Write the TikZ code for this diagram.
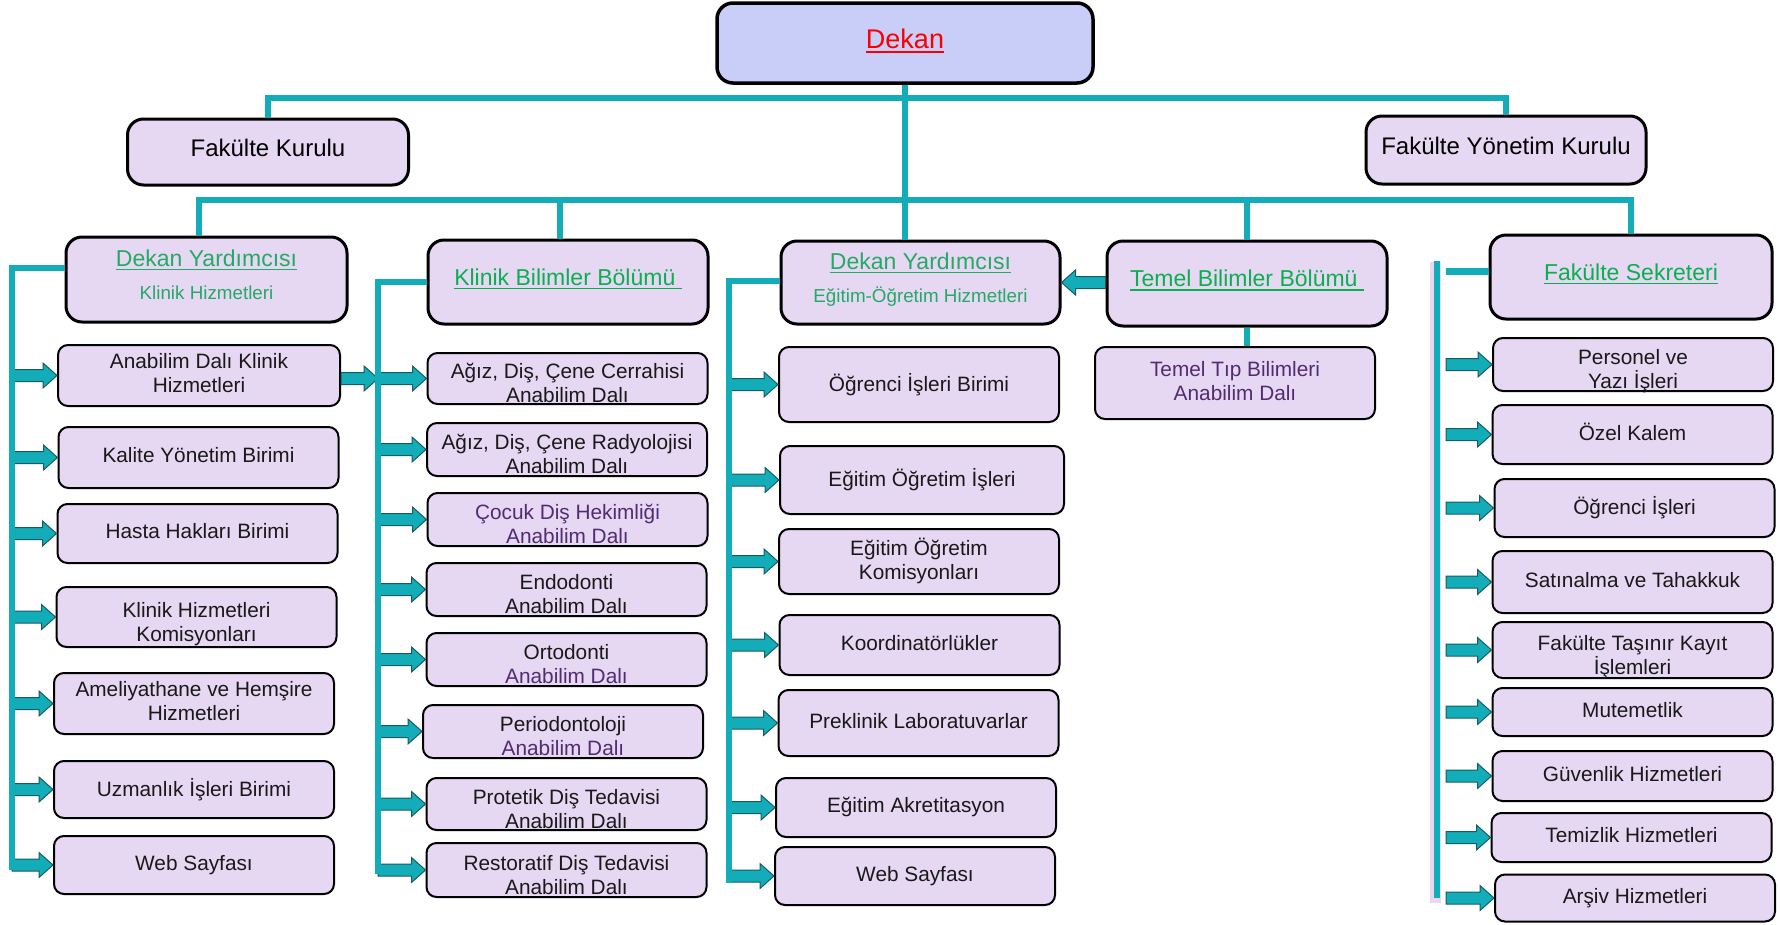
\documentclass[tikz,border=0pt]{standalone}
\usepackage{fontspec}
\setmainfont{Liberation Sans}
\usetikzlibrary{calc}

\definecolor{lineteal}{RGB}{18,173,184}
\definecolor{arrowedge}{RGB}{24,92,98}
\definecolor{boxfill}{RGB}{230,215,242}
\definecolor{topfill}{RGB}{200,206,247}
\definecolor{headgreen}{RGB}{36,170,100}
\definecolor{bolgreen}{RGB}{10,176,80}
\definecolor{dalpurple}{RGB}{82,44,112}
\definecolor{dekanred}{RGB}{250,0,0}
\definecolor{buspink}{RGB}{236,214,240}

% underline with a rule that follows the font size
\newsavebox\ulbox
\newcommand{\uln}[1]{\sbox\ulbox{#1}\leavevmode\rlap{\rule[-0.17em]{\wd\ulbox}{0.07em}}\usebox\ulbox}
% taller first line, pushes two-line text down a little
\newcommand{\lo}{\rule{0pt}{24pt}}

% block arrow from #1 to #2 (horizontal, at the height of #2)
\newcommand{\fatarrow}[2]{%
  \path[fatarr] let \p1=#1, \p2=#2, \p3=($(\x2,\y2)!14pt!(\x1,\y2)$) in
    (\x1,\y2+6pt) -- (\x3,\y2+6pt) -- (\x3,\y2+12.5pt) -- (\x2,\y2)
    -- (\x3,\y2-12.5pt) -- (\x3,\y2-6pt) -- (\x1,\y2-6pt) -- cycle;}

\begin{document}
\begin{tikzpicture}[
    x=1pt, y=-1pt,
    conn/.style={draw=lineteal, line width=6pt},
    fatarr/.style={fill=lineteal, draw=arrowedge, line width=1pt},
    ht/.style={minimum height=#1pt},
    wd/.style={minimum width=#1pt},
    box/.style={draw=black, fill=boxfill, inner sep=0pt, align=center, minimum width=280pt},
    top/.style={box, line width=3pt, rounded corners=16pt, text depth=9pt, font=\fontsize{24}{28}\selectfont},
    head/.style={box, line width=3pt, rounded corners=16pt, text depth=10pt, font=\fontsize{23}{33}\selectfont},
    unit/.style={box, line width=2pt, rounded corners=10pt, text depth=5pt, font=\fontsize{20.8}{24}\selectfont, text=black!90},
    low/.style={text depth=0pt},
  ]
  \useasboundingbox (0,0) rectangle (1780,924);

  % top level
  \node[top, fill=topfill, line width=3.5pt, wd=376, ht=80, font=\fontsize{27}{30}\selectfont]
    (dekan) at (905,43) {\textcolor{dekanred}{\uln{Dekan}}};
  \node[top, wd=281, ht=66] (fk) at (268,152) {Fakülte Kurulu};
  \node[top, ht=68] (fyk) at (1506,150) {Fakülte Yönetim Kurulu};

  % section heads
  \node[head, wd=281, ht=85, text=headgreen] (dyk) at (206.5,279.5)
    {\uln{Dekan Yardımcısı}\\{\fontsize{18.8}{33}\selectfont Klinik Hizmetleri}};
  \node[head, ht=84, text=bolgreen] (kbb) at (568,282) {\uln{Klinik Bilimler Bölümü\ }};
  \node[head, wd=279, ht=83, text=headgreen] (dye) at (920.5,282.5)
    {\uln{Dekan Yardımcısı}\\{\fontsize{18.8}{33}\selectfont Eğitim-Öğretim Hizmetleri}};
  \node[head, ht=85, text=bolgreen] (tbb) at (1247,283.5) {\uln{Temel Bilimler Bölümü\ }};
  \node[head, wd=282, ht=84, text=bolgreen] (sek) at (1631,277) {\uln{Fakülte Sekreteri}};
  \node[unit, ht=72, text=dalpurple] (ttb) at (1235,383) {Temel Tıp Bilimleri\\Anabilim Dalı};

  % klinik hizmetleri
  \node[unit, wd=282, ht=61] (k1) at (199,375.5) {Anabilim Dalı Klinik\\Hizmetleri};
  \node[unit, ht=61] (k2) at (198.5,457.5) {Kalite Yönetim Birimi};
  \node[unit, ht=59] (k3) at (197.5,533.5) {Hasta Hakları Birimi};
  \node[unit, ht=60, low] (k4) at (196.5,617) {\lo Klinik Hizmetleri\\Komisyonları};
  \node[unit, ht=61] (k5) at (194,703.5) {Ameliyathane ve Hemşire\\Hizmetleri};
  \node[unit, ht=57] (k6) at (194,789.5) {Uzmanlık İşleri Birimi};
  \node[unit, ht=58] (k7) at (194,865) {Web Sayfası};

  % klinik bilimler
  \node[unit, ht=51, low] (c1) at (567.5,378.5) {\lo Ağız, Diş, Çene Cerrahisi\\Anabilim Dalı};
  \node[unit, ht=53, low] (c2) at (567,449.5) {\lo Ağız, Diş, Çene Radyolojisi\\Anabilim Dalı};
  \node[unit, ht=53, low, text=dalpurple] (c3) at (567.5,519.5) {\lo Çocuk Diş Hekimliği\\Anabilim Dalı};
  \node[unit, ht=53, low] (c4) at (566.5,589.5) {\lo Endodonti\\Anabilim Dalı};
  \node[unit, ht=53, low] (c5) at (566.5,659.5) {\lo Ortodonti\\\textcolor{dalpurple}{Anabilim Dalı}};
  \node[unit, ht=53, low] (c6) at (563,731.5) {\lo Periodontoloji\\\textcolor{dalpurple}{Anabilim Dalı}};
  \node[unit, ht=52, low] (c7) at (566.5,804) {\lo Protetik Diş Tedavisi\\Anabilim Dalı};
  \node[unit, ht=54, low] (c8) at (566.5,870) {\lo Restoratif Diş Tedavisi\\Anabilim Dalı};

  % egitim-ogretim
  \node[unit, ht=75] (e1) at (919,384.5) {Öğrenci İşleri Birimi};
  \node[unit, wd=284, ht=68] (e2) at (922,480) {Eğitim Öğretim İşleri};
  \node[unit, ht=65] (e3) at (919,561.5) {Eğitim Öğretim\\Komisyonları};
  \node[unit, ht=60] (e4) at (919.5,645) {Koordinatörlükler};
  \node[unit, ht=66] (e5) at (918.5,723) {Preklinik Laboratuvarlar};
  \node[unit, ht=59] (e6) at (916,807.5) {Eğitim Akretitasyon};
  \node[unit, ht=58] (e7) at (915,876) {Web Sayfası};

  % fakulte sekreteri
  \node[unit, ht=53, low] (s1) at (1633,364.5) {\lo Personel ve\\Yazı İşleri};
  \node[unit, ht=59] (s2) at (1632.5,434.5) {Özel Kalem};
  \node[unit, ht=58] (s3) at (1634.5,508) {Öğrenci İşleri};
  \node[unit, ht=62] (s4) at (1632.5,582) {Satınalma ve Tahakkuk};
  \node[unit, ht=56, low] (s5) at (1632.5,650) {\lo Fakülte Taşınır Kayıt\\İşlemleri};
  \node[unit, ht=48] (s6) at (1632.5,712) {Mutemetlik};
  \node[unit, ht=50] (s7) at (1632.5,776) {Güvenlik Hizmetleri};
  \node[unit, ht=49] (s8) at (1631.5,837.5) {Temizlik Hizmetleri};
  \node[unit, ht=47] (s9) at (1635,898) {Arşiv Hizmetleri};

  % bus ends
  \coordinate (h1) at (905,98);
  \coordinate (h2) at (905,200);
  \coordinate (b1b) at (12,870);
  \coordinate (b2b) at (378,874);
  \coordinate (b3b) at (729,883);
  \coordinate (b5t) at (1437,261);
  \coordinate (b5b) at (1437,898);
  \coordinate (a5) at (1446,271);

  % arrows
  \foreach \bx in {k1,k2,k3,k4,k5,k6,k7} \fatarrow{(b1b |- \bx)}{(\bx.west)};
  \foreach \bx in {c1,c2,c3,c4,c5,c6,c7,c8} \fatarrow{(b2b |- \bx)}{(\bx.west)};
  \foreach \bx in {e1,e2,e3,e4,e5,e6,e7} \fatarrow{(b3b |- \bx)}{(\bx.west)};
  \foreach \bx in {s1,s2,s3,s4,s5,s6,s7,s8,s9} \fatarrow{(a5 |- \bx)}{(\bx.west)};
  \fatarrow{(k1.east)}{(b2b |- c1)};
  \fatarrow{(tbb.west)}{(dye.east)};

  % connectors
  \draw[conn] (dekan.south) -- (h2);
  \draw[conn] (h1) -| (fk.north);
  \draw[conn] (h1) -| (fyk.north);
  \draw[conn] (h2) -| ([xshift=-8pt]dyk.north);
  \draw[conn] (h2) -| ([xshift=-8pt]kbb.north);
  \draw[conn] (h2) -- (dye.north -| h2);
  \draw[conn] (h2) -| (tbb.north);
  \draw[conn] (h2) -| (sek.north);
  \draw[conn] (tbb.south) -- (tbb.south |- ttb.north);
  \draw[conn] ([yshift=12pt]dyk.west) -| (b1b);
  \draw[conn] (kbb.west) -| (b2b);
  \draw[conn] ([yshift=2pt]dye.west) -| (b3b);
  \fill[buspink] (1430,262) rectangle (1441,903);
  \draw[conn] (b5t) -- (b5b);
  \draw[conn, line width=7pt] (a5) -- (a5 -| sek.west);
\end{tikzpicture}
\end{document}
